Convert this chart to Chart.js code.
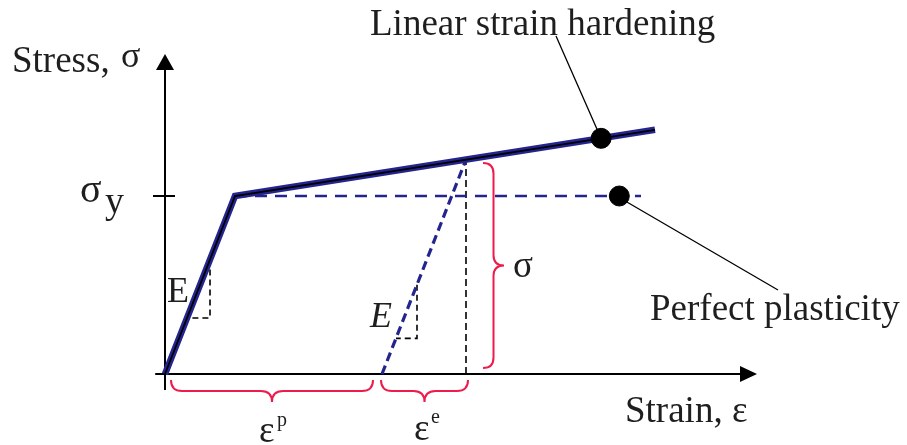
<!DOCTYPE html>
<html>
<head>
<meta charset="utf-8">
<title>Stress-strain: linear hardening vs perfect plasticity</title>
<script src="https://cdn.jsdelivr.net/npm/chart.js@4.4.0/dist/chart.umd.min.js"></script>
<style>
  html, body { margin: 0; padding: 0; background: #fff; }
  canvas { display: block; }
</style>
</head>
<body>
<canvas id="chart" width="907" height="445"></canvas>
<script>
// Normalised units: yield strain = 1, yield stress = 1, E = 1
const hardeningStrain = [0, 1, 7];
const hardeningStress = [0, 1, 1.372];

const plasticStrain = [1, 6.8];
const plasticStress = [1, 1];

// elastic unloading from a point on the hardening line
const unloadStrain = [3.1, 4.3];
const unloadStress = [0, 1.205];

const markerStrain = [6.23, 6.49];
const markerStress = [1.324, 1];

// little slope triangles marking E
const slopeStrain1 = [0.643, 0.643, 0.315];
const slopeStress1 = [0.643, 0.315, 0.315];
const slopeStrain2 = [3.6, 3.6, 3.3];
const slopeStress2 = [0.502, 0.2, 0.2];

const BLUE = "#24248f";
const RED = "#ee1b4d";
const INK = "#1e1e1e";
const SERIF = "'Liberation Serif', 'DejaVu Serif', serif";

const toPoints = (xs, ys) => xs.map((x, i) => ({ x: x, y: ys[i] }));

const line = (xs, ys, color, width, dash) => ({
  data: toPoints(xs, ys),
  showLine: true,
  borderColor: color,
  borderWidth: width,
  borderDash: dash || [],
  pointRadius: 0,
  fill: false
});

// Draws a curly brace; horizontal ones open upwards, vertical ones open left
function brace(ctx, x1, y1, x2, y2, h, horizontal) {
  ctx.beginPath();
  const q = h / 2;
  if (horizontal) {
    const mid = (x1 + x2) / 2, y = y1;
    ctx.moveTo(x1, y);
    ctx.quadraticCurveTo(x1, y + q, x1 + q, y + q);
    ctx.lineTo(mid - q, y + q);
    ctx.quadraticCurveTo(mid, y + q, mid, y + h);
    ctx.quadraticCurveTo(mid, y + q, mid + q, y + q);
    ctx.lineTo(x2 - q, y + q);
    ctx.quadraticCurveTo(x2, y + q, x2, y);
  } else {
    const mid = (y1 + y2) / 2, x = x1;
    ctx.moveTo(x, y1);
    ctx.quadraticCurveTo(x + q, y1, x + q, y1 + q);
    ctx.lineTo(x + q, mid - q);
    ctx.quadraticCurveTo(x + q, mid, x + h, mid);
    ctx.quadraticCurveTo(x + q, mid, x + q, mid + q);
    ctx.lineTo(x + q, y2 - q);
    ctx.quadraticCurveTo(x + q, y2, x, y2);
  }
  ctx.stroke();
}

function text(ctx, str, x, y, size, italic) {
  ctx.font = (italic ? "italic " : "") + size + "px " + SERIF;
  ctx.fillText(str, x, y);
}

const axesPlugin = {
  id: "axesPlugin",
  beforeDatasetsDraw(chart) {
    const ctx = chart.ctx;
    const sx = chart.scales.x, sy = chart.scales.y;
    const x0 = sx.getPixelForValue(0), y0 = sy.getPixelForValue(0);
    ctx.save();
    ctx.strokeStyle = "#000";
    ctx.fillStyle = "#000";
    ctx.lineWidth = 2;
    // y axis
    ctx.beginPath();
    ctx.moveTo(x0, sy.getPixelForValue(-0.09));
    ctx.lineTo(x0, 68);
    ctx.stroke();
    ctx.beginPath();
    ctx.moveTo(x0, 54);
    ctx.lineTo(x0 - 9, 70);
    ctx.lineTo(x0 + 9, 70);
    ctx.closePath();
    ctx.fill();
    // x axis
    ctx.beginPath();
    ctx.moveTo(sx.getPixelForValue(-0.14), y0);
    ctx.lineTo(742, y0);
    ctx.stroke();
    ctx.beginPath();
    ctx.moveTo(757, y0);
    ctx.lineTo(740, y0 - 8);
    ctx.lineTo(740, y0 + 8);
    ctx.closePath();
    ctx.fill();
    // tick at yield stress
    const yy = sy.getPixelForValue(1);
    ctx.beginPath();
    ctx.moveTo(x0 - 12, yy);
    ctx.lineTo(x0 + 10, yy);
    ctx.stroke();
    ctx.restore();
  },
  afterDraw(chart) {
    const ctx = chart.ctx;
    ctx.save();
    // leader lines to labels
    ctx.strokeStyle = "#000";
    ctx.lineWidth = 1.3;
    ctx.beginPath();
    ctx.moveTo(600, 136);
    ctx.lineTo(556, 36);
    ctx.moveTo(620, 198);
    ctx.lineTo(778, 290);
    ctx.stroke();

    // red braces
    ctx.strokeStyle = RED;
    ctx.lineWidth = 2;
    brace(ctx, 171, 380, 373, 380, 22, true);
    brace(ctx, 381, 380, 468, 380, 22, true);
    brace(ctx, 483, 163, 483, 368, 21, false);

    // text
    ctx.fillStyle = INK;
    ctx.textBaseline = "alphabetic";
    ctx.textAlign = "left";
    text(ctx, "Stress,", 12, 72, 37);
    text(ctx, "σ", 121, 67, 36);
    text(ctx, "σ", 80, 202, 40);
    text(ctx, "y", 105, 213, 38);
    text(ctx, "Linear strain hardening", 370, 35, 37);
    text(ctx, "Perfect plasticity", 650, 320, 37);
    text(ctx, "Strain, ε", 625, 422, 37);
    text(ctx, "E", 167, 302, 36);
    text(ctx, "σ", 513, 277, 37);
    text(ctx, "E", 370, 327, 36, true);
    text(ctx, "ε", 259, 442, 37);
    text(ctx, "ε", 414, 440, 37);
    text(ctx, "p", 277, 426, 20);
    text(ctx, "e", 431, 423, 20);
    ctx.restore();
  }
};

// Chart.js paints dataset 0 last, so the top-most marks come first here
new Chart(document.getElementById("chart").getContext("2d"), {
  type: "scatter",
  data: {
    datasets: [
      {
        data: toPoints(markerStrain, markerStress),
        pointRadius: 10,
        pointHoverRadius: 10,
        pointBackgroundColor: "#000",
        pointBorderColor: "#000",
        showLine: false
      },
      line(hardeningStrain, hardeningStress, "#000", 1.8),
      line(hardeningStrain, hardeningStress, BLUE, 6.5),
      line(unloadStrain, unloadStress, BLUE, 3.2, [9, 5]),
      line(plasticStrain, plasticStress, BLUE, 2.6, [12, 8]),
      line([unloadStrain[1], unloadStrain[1]], [0, unloadStress[1]], "#000", 1.6, [7, 4]),
      line(slopeStrain2, slopeStress2, "#000", 1.6, [6, 4]),
      line(slopeStrain1, slopeStress1, "#000", 1.6, [6, 4])
    ]
  },
  options: {
    responsive: false,
    animation: false,
    layout: { padding: 0, autoPadding: false },
    plugins: {
      legend: { display: false },
      tooltip: { enabled: false },
      title: { display: false }
    },
    scales: {
      x: { type: "linear", display: false, min: -165 / 70, max: (907 - 165) / 70 },
      y: { type: "linear", display: false, min: -71 / 178, max: 374 / 178 }
    }
  },
  plugins: [axesPlugin]
});
</script>
</body>
</html>
